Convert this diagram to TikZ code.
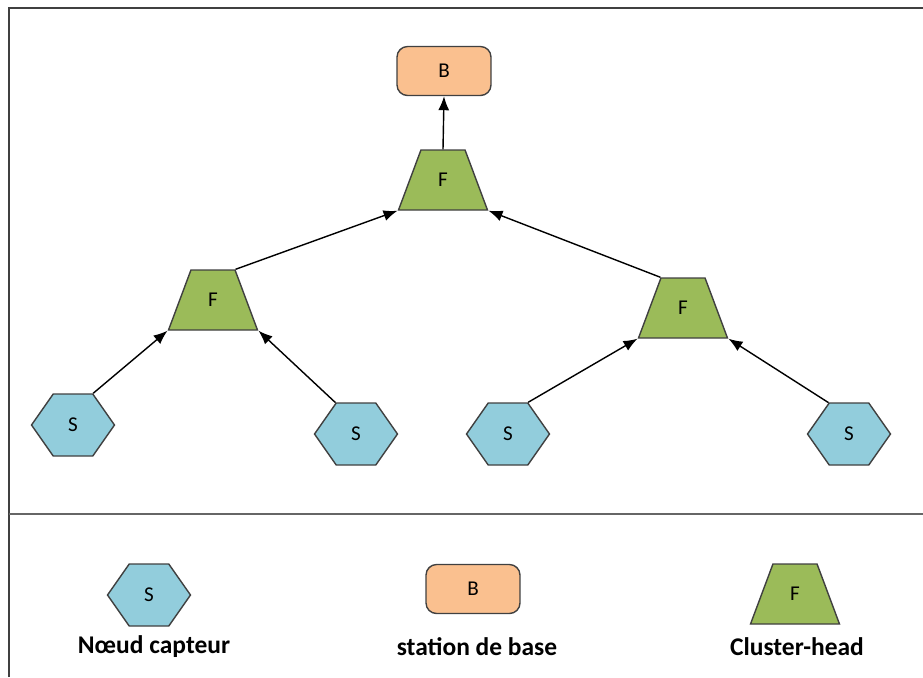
\documentclass[tikz,border=0pt]{standalone}
\usepackage{fontspec}
\setmainfont{Carlito}
\usetikzlibrary{shapes.geometric,shapes.symbols,arrows.meta}
\definecolor{capteurbleu}{RGB}{146,205,220}
\definecolor{baseorange}{RGB}{250,192,143}
\definecolor{tetevert}{RGB}{155,187,89}
\definecolor{trait}{RGB}{64,64,64}
\tikzset{capteur/.style={signal,signal to=east and west,signal pointer angle=110,minimum width=1.66cm,minimum height=1.24cm,inner sep=0pt,fill=capteurbleu,draw=trait,font=\large},
  base/.style={rectangle,rounded corners=6pt,minimum width=1.88cm,minimum height=0.98cm,fill=baseorange,draw=trait,font=\large},
  tete/.style={trapezium,trapezium left angle=70,trapezium right angle=70,trapezium stretches=true,minimum width=1.78cm,minimum height=1.2cm,inner sep=0pt,fill=tetevert,draw=trait,font=\large},
  legende/.style={font=\bfseries\fontsize{14.5}{16}\selectfont}}

\begin{document}
\begin{tikzpicture}[x=0.02cm,y=-0.02cm,>={Latex[length=2.8mm,width=2.2mm]},line width=0.8pt]
  \useasboundingbox (0,0) rectangle (923,677);
  \draw[trait] (9,677) -- (9,8) -- (923,8);
  \draw[trait!80] (9,514) -- (923,514);
  % arbre
  \node[base] at (444,71) (b0) {B};
  \node[tete] at (443,180) (f0) {F};
  \node[tete] at (213,300) (f1) {F};
  \node[tete] at (683,308) (f2) {F};
  \node[capteur] at (73,425) (s1) {S};
  \node[capteur] at (356,434) (s2) {S};
  \node[capteur] at (508,434) (s3) {S};
  \node[capteur] at (849,434) (s4) {S};
  \draw[->] (f0.north) -- (b0.south);
  \draw[->] (f1.top right corner) -- (f0.bottom left corner);
  \draw[->] (f2.top left corner) -- (f0.bottom right corner);
  \draw[->] (s1.north east) -- (f1.bottom left corner);
  \draw[->] (s2.north west) -- (f1.bottom right corner);
  \draw[->] (s3.north east) -- (f2.bottom left corner);
  \draw[->] (s4.north west) -- (f2.bottom right corner);
  % legende
  \node[capteur] at (149,595) (ls) {S};
  \node[base] at (473,589) (lb) {B};
  \node[tete] at (795,594) (lf) {F};
  \node[legende] at (154,647) (txts) {Nœud capteur};
  \node[legende] at (477,647) (txtb) {station de base};
  \node[legende] at (797,647) (txtf) {Cluster-head};
\end{tikzpicture}
\end{document}
